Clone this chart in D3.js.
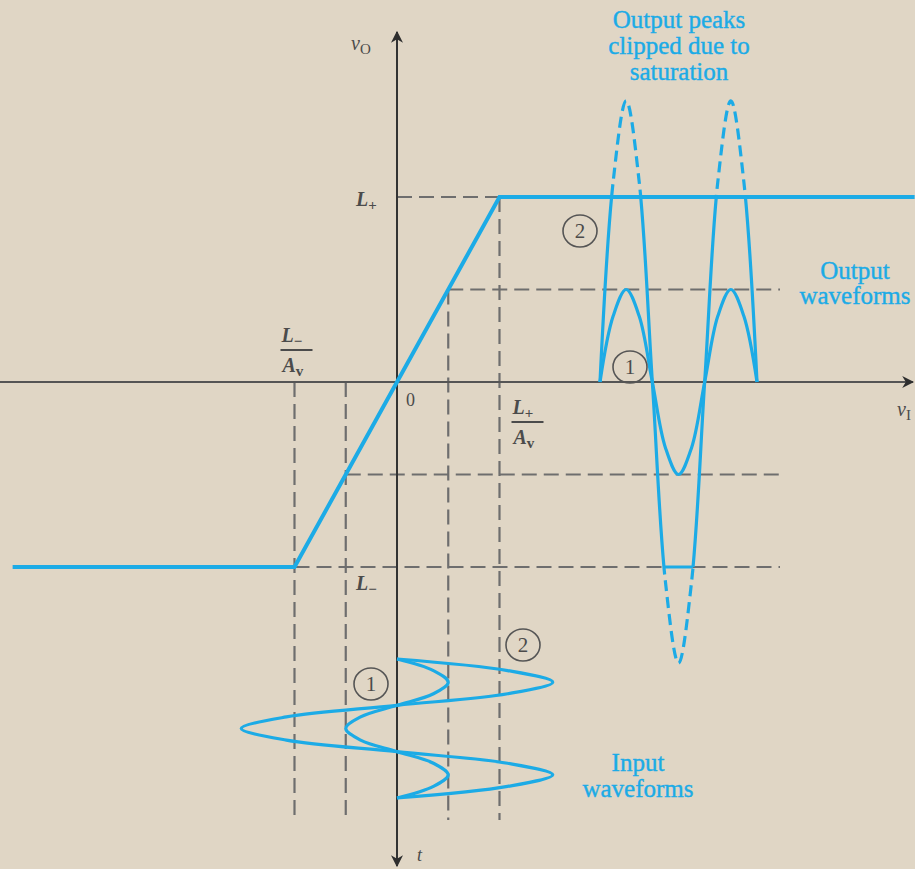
<!DOCTYPE html>
<html>
<head>
<meta charset="utf-8">
<script src="https://cdn.jsdelivr.net/npm/d3@7"></script>
<style>
  html, body { margin: 0; padding: 0; background: #e0d6c5; }
  svg { display: block; }
</style>
</head>
<body>
<svg id="chart" width="915" height="869"></svg>
<script>
// Amplifier transfer characteristic: saturation levels and small-signal gain
const Lplus = 10;
const Lminus = -10;
const Av = 10;

// Piecewise-linear transfer curve (v_I, v_O) breakpoints
const transferVI = [-3.75, Lminus / Av, Lplus / Av, 5.05];
const transferVO = [Lminus, Lminus, Lplus, Lplus];

// Input sine peak amplitudes for waveform ① and ②
const inputPeaks = [0.5, 1.52];
const waveLabels = ["1", "2"];

// One and a half cycles of a unit sine, sampled every eighth of a period
const cyclePos  = [0, 0.125, 0.25, 0.375, 0.5, 0.625, 0.75, 0.875, 1, 1.125, 1.25, 1.375, 1.5];
const unitWave  = [0, 0.71, 1, 0.71, 0, -0.71, -1, -0.71, 0, 0.71, 1, 0.71, 0];

const blue = "#1cabe6";
const grey = "#4b4b4b";
const dashGrey = "#6e6e6e";
const serif = "'Liberation Serif', 'DejaVu Serif', serif";

const svg = d3.select("#chart");

// Scales: v_I horizontally, v_O vertically; time runs down for the input and right for the output
const x = d3.scaleLinear().domain([-1, 1]).range([294.5, 499.5]);
const y = d3.scaleLinear().domain([-10, 10]).range([567, 197]);
const tIn = d3.scaleLinear().domain([0, 1.5]).range([659, 798]);
const tOut = d3.scaleLinear().domain([0, 1.5]).range([600, 757]);

const x0 = x(0), y0 = y(0);

// ---------- dashed guide lines ----------
const guides = svg.append("g")
  .attr("stroke", dashGrey)
  .attr("stroke-width", 2.2)
  .attr("stroke-dasharray", "15,7")
  .attr("fill", "none");

const guideBottom = 820;
const guideRight = 780;
const smallOut = Av * inputPeaks[0];

// horizontal guides
guides.append("line").attr("x1", x0).attr("x2", x(Lplus / Av)).attr("y1", y(Lplus)).attr("y2", y(Lplus));
guides.append("line").attr("x1", x(inputPeaks[0])).attr("x2", guideRight).attr("y1", y(smallOut)).attr("y2", y(smallOut));
guides.append("line").attr("x1", x(-inputPeaks[0])).attr("x2", guideRight).attr("y1", y(-smallOut)).attr("y2", y(-smallOut));
guides.append("line").attr("x1", x(Lminus / Av)).attr("x2", guideRight).attr("y1", y(Lminus)).attr("y2", y(Lminus));

// vertical guides
guides.append("line").attr("x1", x(Lplus / Av)).attr("x2", x(Lplus / Av)).attr("y1", y(Lplus)).attr("y2", guideBottom);
guides.append("line").attr("x1", x(inputPeaks[0])).attr("x2", x(inputPeaks[0])).attr("y1", y(smallOut)).attr("y2", guideBottom);
guides.append("line").attr("x1", x(-inputPeaks[0])).attr("x2", x(-inputPeaks[0])).attr("y1", y0).attr("y2", guideBottom);
guides.append("line").attr("x1", x(Lminus / Av)).attr("x2", x(Lminus / Av)).attr("y1", y0).attr("y2", guideBottom);

// ---------- axes ----------
const defs = svg.append("defs");
defs.append("marker")
  .attr("id", "arrow")
  .attr("viewBox", "0 0 10 10")
  .attr("refX", 9).attr("refY", 5)
  .attr("markerWidth", 6).attr("markerHeight", 8)
  .attr("markerUnits", "strokeWidth")
  .attr("orient", "auto")
  .append("path").attr("d", "M0,0 L10,5 L0,10 L3,5 Z").attr("fill", "#2e2e2e");

svg.append("line")
  .attr("x1", 0).attr("x2", 913).attr("y1", y0).attr("y2", y0)
  .attr("stroke", "#555").attr("stroke-width", 2)
  .attr("marker-end", "url(#arrow)");

svg.append("line")
  .attr("x1", x0).attr("x2", x0).attr("y1", y0).attr("y2", 32)
  .attr("stroke", "#333").attr("stroke-width", 2)
  .attr("marker-end", "url(#arrow)");

svg.append("line")
  .attr("x1", x0).attr("x2", x0).attr("y1", y0).attr("y2", 866)
  .attr("stroke", "#333").attr("stroke-width", 2)
  .attr("marker-end", "url(#arrow)");

// ---------- transfer curve ----------
const transferPts = transferVI.map((v, i) => [x(v), y(transferVO[i])]);
svg.append("path")
  .attr("d", d3.line()(transferPts))
  .attr("fill", "none")
  .attr("stroke", blue)
  .attr("stroke-width", 4)
  .attr("stroke-linejoin", "miter");

// ---------- input waveforms (v_I against downward time) ----------
const inputLine = d3.line().curve(d3.curveCatmullRom.alpha(0.5));
inputPeaks.forEach(pk => {
  const pts = cyclePos.map((c, i) => [x(pk * unitWave[i]), tIn(c)]);
  svg.append("path")
    .attr("d", inputLine(pts))
    .attr("fill", "none")
    .attr("stroke", blue)
    .attr("stroke-width", 3.2);
});

// ---------- output waveforms (v_O against time) ----------
const outLine = d3.line().curve(d3.curveCatmullRom.alpha(0.5));

// clip regions: linear band between the saturation levels, and the part beyond them
defs.append("clipPath").attr("id", "band")
  .append("rect").attr("x", 0).attr("width", 915)
  .attr("y", y(Lplus)).attr("height", y(Lminus) - y(Lplus));
const beyond = defs.append("clipPath").attr("id", "beyond");
beyond.append("rect").attr("x", 0).attr("width", 915).attr("y", 0).attr("height", y(Lplus));
beyond.append("rect").attr("x", 0).attr("width", 915).attr("y", y(Lminus)).attr("height", 869 - y(Lminus));

inputPeaks.forEach((pk, k) => {
  const pts = cyclePos.map((c, i) => [tOut(c), y(Av * pk * unitWave[i])]);
  const d = outLine(pts);
  const clipped = Av * pk > Lplus;
  svg.append("path")
    .attr("d", d)
    .attr("fill", "none")
    .attr("stroke", blue)
    .attr("stroke-width", 3.2)
    .attr("clip-path", clipped ? "url(#band)" : null);
  if (clipped) {
    // ideal (unsaturated) peaks shown dashed
    svg.append("path")
      .attr("d", d)
      .attr("fill", "none")
      .attr("stroke", blue)
      .attr("stroke-width", 3.2)
      .attr("stroke-dasharray", "11,6")
      .attr("clip-path", "url(#beyond)");
    // flat clipped trough at L−, bounded by the waveform lobe
    defs.append("clipPath").attr("id", "lobe" + k)
      .append("path").attr("d", d + "Z");
    svg.append("line")
      .attr("x1", tOut(0)).attr("x2", tOut(1.5))
      .attr("y1", y(Lminus)).attr("y2", y(Lminus))
      .attr("stroke", blue).attr("stroke-width", 3.2)
      .attr("clip-path", `url(#lobe${k})`);
  }
});

// ---------- labels ----------
const lab = svg.append("g").attr("font-family", serif).attr("fill", grey);

function italicSub(g, px, py, main, sub, size) {
  const t = g.append("text").attr("x", px).attr("y", py).attr("font-size", size).attr("font-style", "italic");
  t.append("tspan").text(main);
  t.append("tspan").attr("font-size", size * 0.75).attr("dy", size * 0.22).attr("font-style", "normal").text(sub);
  return t;
}

// axis names
italicSub(lab, 351, 50, "v", "O", 20);
italicSub(lab, 897, 416, "v", "I", 20);
lab.append("text").attr("x", 417).attr("y", 861).attr("font-size", 18).attr("font-style", "italic").text("t");

// levels
italicSub(lab, 356, 206, "L", "+", 20).attr("font-weight", "bold");
italicSub(lab, 356, 590, "L", "\u2212", 20).attr("font-weight", "bold");
lab.append("text").attr("x", 406).attr("y", 406).attr("font-size", 18).text("0");

// fractions L/Av
function fraction(cx, top, sub) {
  italicSub(lab, cx - 15, top + 16, "L", sub, 20).attr("font-weight", "bold");
  lab.append("line").attr("x1", cx - 16).attr("x2", cx + 16)
    .attr("y1", top + 24).attr("y2", top + 24)
    .attr("stroke", grey).attr("stroke-width", 2);
  italicSub(lab, cx - 14, top + 46, "A", "v", 20).attr("font-weight", "bold");
}
fraction(x(Lminus / Av) + 2, 326, "\u2212");
fraction(x(Lplus / Av) + 28, 398, "+");

// circled waveform numbers
function circled(cx, cy, s) {
  lab.append("ellipse").attr("cx", cx).attr("cy", cy).attr("rx", 17).attr("ry", 16)
    .attr("fill", "none").attr("stroke", "#555").attr("stroke-width", 1.6);
  lab.append("text").attr("x", cx).attr("y", cy + 7).attr("font-size", 21)
    .attr("text-anchor", "middle").text(s);
}
circled(371, 684, waveLabels[0]);
circled(523, 645, waveLabels[1]);
circled(580, 231, waveLabels[1]);
circled(630, 367, waveLabels[0]);

// blue annotations
const note = svg.append("g").attr("font-family", serif).attr("fill", blue)
  .attr("font-size", 25).attr("text-anchor", "middle")
  .attr("stroke", blue).attr("stroke-width", 0.4);
function lines(cx, baseY, step, arr) {
  arr.forEach((s, i) => note.append("text").attr("x", cx).attr("y", baseY + i * step).text(s));
}
lines(679, 28, 26, ["Output peaks", "clipped due to", "saturation"]);
lines(855, 279, 25, ["Output", "waveforms"]);
lines(638, 771, 26, ["Input", "waveforms"]);
</script>
</body>
</html>
